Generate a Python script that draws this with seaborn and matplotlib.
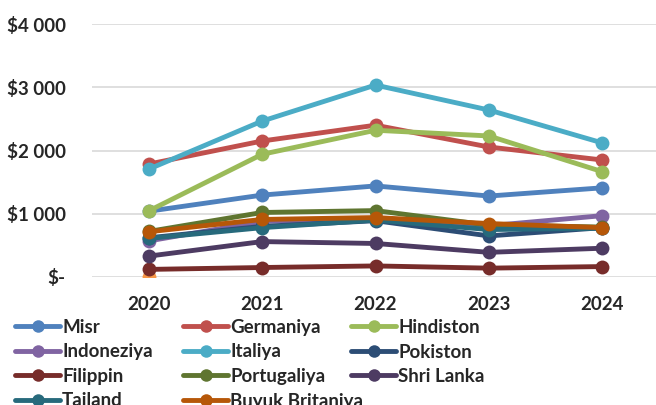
import matplotlib
matplotlib.use("Agg")
import matplotlib.pyplot as plt
import seaborn as sns
import pandas as pd
from matplotlib.lines import Line2D

years = [2020, 2021, 2022, 2023, 2024]
countries = ["Misr", "Germaniya", "Hindiston", "Indoneziya", "Italiya", "Pokiston",
             "Filippin", "Portugaliya", "Shri Lanka", "Tailand", "Buyuk Britaniya"]
misr = [1040, 1295, 1440, 1280, 1410]
germaniya = [1785, 2150, 2400, 2055, 1850]
hindiston = [1045, 1940, 2320, 2230, 1665]
indoneziya = [570, 880, 920, 810, 970]
italiya = [1705, 2465, 3035, 2640, 2120]
pokiston = [620, 800, 890, 650, 780]
filippin = [120, 150, 175, 140, 165]
portugaliya = [720, 1020, 1050, 820, 790]
shri_lanka = [330, 560, 530, 390, 455]
tailand = [610, 780, 900, 750, 770]
buyuk_britaniya = [715, 910, 940, 845, 780]
extra_year = [2020]
extra_value = [0]

series = [misr, germaniya, hindiston, indoneziya, italiya, pokiston,
          filippin, portugaliya, shri_lanka, tailand, buyuk_britaniya]
colors = ["#4F81BD", "#C0504D", "#9BBB59", "#8064A2", "#4BACC6", "#2C4D75",
          "#772C2A", "#5F7530", "#4D3B62", "#276A7C", "#B65708"]
ytick_vals = [0, 1000, 2000, 3000, 4000]
ytick_labels = ["$-", "$1 000", "$2 000", "$3 000", "$4 000"]

sns.set_style("white")
plt.rcParams['font.family'] = ['Lato', 'DejaVu Sans']
plt.rcParams['font.weight'] = 'bold'

fig = plt.figure(figsize=(6.56, 4.05), dpi=100)
ax = fig.add_axes([92/656, 1-277/405, (659-92)/656, (277-24)/405])

# extra lone point (no legend entry)
sns.lineplot(x=extra_year, y=extra_value, ax=ax, color="#F79646", marker="o",
             markersize=10, markeredgewidth=0, linewidth=3.5, zorder=1, legend=False)

handles = []
for i, (name, vals, c) in enumerate(zip(countries, series, colors)):
    df = pd.DataFrame({"year": years, "value": vals})
    sns.lineplot(data=df, x="year", y="value", ax=ax, color=c, marker="o",
                 markersize=10, markeredgewidth=0, linewidth=3.5, zorder=2 + i,
                 legend=False)
    handles.append(Line2D([], [], color=c, marker="o", markersize=9,
                          markeredgewidth=0, linewidth=3.5, label=name))

ax.set_xlim(2019.5, 2024.5)
ax.set_ylim(0, 4000)
ax.set_xticks(years)
ax.set_xticklabels([str(y) for y in years], fontsize=13.5, fontweight='bold')
ax.set_yticks(ytick_vals)
ax.set_yticklabels(ytick_labels, fontsize=13.5, fontweight='bold')
ax.tick_params(axis='x', length=0, pad=14)
ax.tick_params(axis='y', length=0, pad=19)
ax.yaxis.grid(True, color="#D9D9D9", linewidth=1.2, zorder=0)
ax.set_axisbelow(True)
for s in ax.spines.values():
    s.set_visible(False)
ax.set_xlabel("")
ax.set_ylabel("")

# three legend columns at fixed positions (row-major order like the original)
col_x = [15, 183, 351]
for col in range(3):
    idx = list(range(col, len(countries), 3))
    leg = fig.legend([handles[k] for k in idx], [countries[k] for k in idx],
                     ncol=1, loc="upper left",
                     bbox_to_anchor=(col_x[col]/656, 1-319/405),
                     frameon=False, fontsize=13.5, handlelength=2.4,
                     handletextpad=0.12, labelspacing=0.40, borderaxespad=0,
                     borderpad=0)
    for t in leg.get_texts():
        t.set_fontweight('bold')

fig.savefig("out.png", dpi=100)
